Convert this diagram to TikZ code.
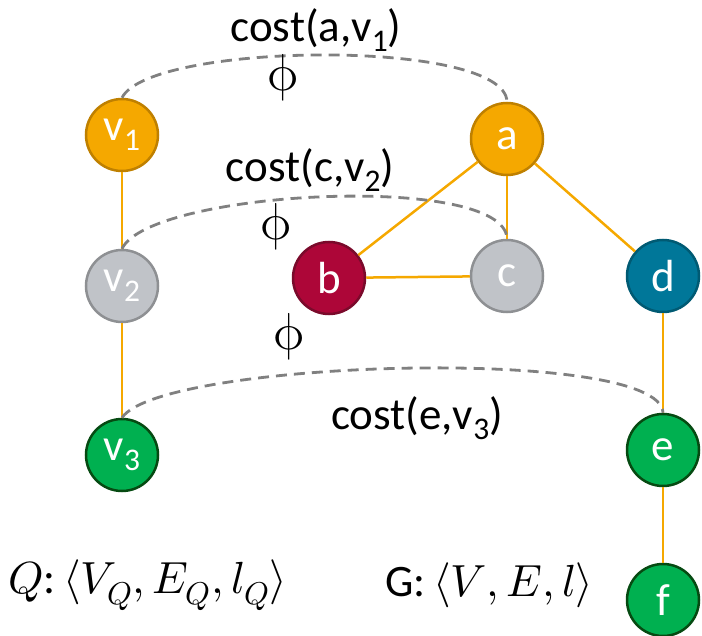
\documentclass[tikz,border=0pt]{standalone}
\usepackage{fontspec}
\usepackage{unicode-math}
\setmainfont{Carlito}
\setmathfont{Latin Modern Math}
\definecolor{orF}{HTML}{F5A800}
\definecolor{orB}{HTML}{BF8000}
\definecolor{grF}{HTML}{C0C3C8}
\definecolor{grB}{HTML}{8E9093}
\definecolor{rdF}{HTML}{AD0638}
\definecolor{rdB}{HTML}{7A0A2B}
\definecolor{blF}{HTML}{007799}
\definecolor{blB}{HTML}{005A73}
\definecolor{gnF}{HTML}{00B050}
\definecolor{gnB}{HTML}{064A12}
\definecolor{dsh}{HTML}{808080}
\newcommand\lsub[1]{\raisebox{-0.22em}{\scalebox{0.7}{#1}}}
\tikzset{
  vtx/.style={circle, minimum size=72pt, inner sep=0pt, line width=2.5pt, text=white,
     font=\fontsize{45}{47}\selectfont},
  vor/.style={vtx, fill=orF, draw=orB},
  vgr/.style={vtx, fill=grF, draw=grB},
  vrd/.style={vtx, fill=rdF, draw=rdB},
  vbl/.style={vtx, fill=blF, draw=blB},
  vgn/.style={vtx, fill=gnF, draw=gnB},
  edge/.style={draw=orF, line width=2.5pt},
  dasharc/.style={draw=dsh, line width=2.8pt, dash pattern=on 11pt off 7pt},
  lbl/.style={font=\fontsize{45}{47}\selectfont, inner sep=0pt},
  phil/.style={font=\fontsize{52}{54}\selectfont, inner sep=0pt}
}
\begin{document}
\begin{tikzpicture}[x=1pt,y=-1pt]
\useasboundingbox (0,0) rectangle (702,636);
% nodes
\node[vor] (v1) at (122,135) {v\lsub{1}};
\node[vgr] (v2) at (122,286) {v\lsub{2}};
\node[vgn] (v3) at (122,455) {v\lsub{3}};
\node[vor] (a) at (507,139) {a};
\node[vrd] (b) at (329,278) {b};
\node[vgr] (c) at (507,276) {c};
\node[vbl] (d) at (663,276) {d};
\node[vgn] (e) at (663,450) {e};
\node[vgn] (f) at (663,600) {f};
% edges
\draw[edge] (v1) -- (v2);
\draw[edge] (v2) -- (v3);
\draw[edge] (a) -- (b);
\draw[edge] (a) -- (c);
\draw[edge] (a) -- (d);
\draw[edge] (b) -- (c);
\draw[edge] (d) -- (e);
\draw[edge] (e) -- (f);
% dashed correspondences
\draw[dasharc] (v1.north) .. controls (150,42) and (505,38) .. (a.north);
\draw[dasharc] (v2.north) .. controls (150,190) and (505,172) .. (c.north);
\draw[dasharc] (v3.north) .. controls (160,360) and (660,345) .. (e.north);
% labels
\node[lbl] (l1) at (316,30) {cost(a,v\lsub{1})};
\node[phil] (p1) at (283,78) {$\upphi$};
\node[lbl] (l2) at (310,170) {cost(c,v\lsub{2})};
\node[phil] (p2) at (276,227) {$\upphi$};
\node[phil] (p3) at (289,337) {$\upphi$};
\node[lbl] (l3) at (417,418) {cost(e,v\lsub{3})};
\node[lbl, anchor=west] (q) at (8,585) {$Q$:\,$\langle V_Q, E_Q, l_Q\rangle$};
\node[lbl, anchor=west] (g) at (385,585) {G:\,$\langle V, E, l\rangle$};
\end{tikzpicture}
\end{document}
